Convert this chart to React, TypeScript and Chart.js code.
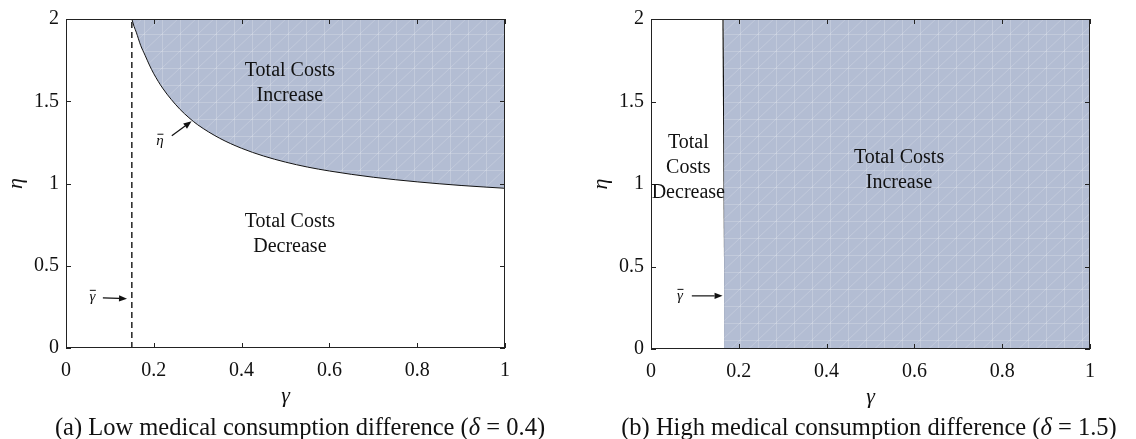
import React, { useEffect, useRef } from "react";
import { Chart, registerables } from "chart.js";

Chart.register(...registerables);

// ---------- data ----------
const gammaCurveA = [0.15, 0.155, 0.16, 0.17, 0.18, 0.19, 0.2, 0.22, 0.24, 0.26, 0.28, 0.3, 0.35, 0.4, 0.45, 0.5, 0.55, 0.6, 0.7, 0.8, 0.9, 1.0];
const etaCurveA = [2.0, 1.955, 1.92, 1.84, 1.78, 1.72, 1.667, 1.58, 1.51, 1.45, 1.4, 1.357, 1.275, 1.214, 1.167, 1.13, 1.1, 1.076, 1.038, 1.01, 0.988, 0.971];
const gammaBarA = 0.15;
const gammaBarBTop = 0.164;
const gammaBarBBottom = 0.169;
const xTickValues = [0, 0.2, 0.4, 0.6, 0.8, 1];
const yTickValues = [0, 0.5, 1, 1.5, 2];
const xTickLabels = ["0", "0.2", "0.4", "0.6", "0.8", "1"];
const yTickLabels = ["0", "0.5", "1", "1.5", "2"];
const captionA = "(a) Low medical consumption difference (";
const captionB = "(b) High medical consumption difference (";
const deltaA = "0.4";
const deltaB = "1.5";

const FILL_RGB = "rgb(179,189,211)";
const SERIF = "'Liberation Serif', 'Times New Roman', serif";

type Note = { x: number; y: number; lines: string[] };
type Arrow = { from: [number, number]; to: [number, number] };
type Mark = { x: number; y: number; text: string };

const notesA: Note[] = [
  { x: 0.51, y: 1.611, lines: ["Total Costs", "Increase"] },
  { x: 0.51, y: 0.69, lines: ["Total Costs", "Decrease"] },
];
const marksA: Mark[] = [
  { x: 0.214, y: 1.26, text: "\u03B7" },
  { x: 0.06, y: 0.311, text: "\u03B3" },
];
const arrowsA: Arrow[] = [
  { from: [0.241, 1.29], to: [0.286, 1.378] },
  { from: [0.084, 0.305], to: [0.139, 0.3] },
];
const notesB: Note[] = [
  { x: 0.085, y: 1.1, lines: ["Total", "Costs", "Decrease"] },
  { x: 0.565, y: 1.086, lines: ["Total Costs", "Increase"] },
];
const marksB: Mark[] = [{ x: 0.066, y: 0.322, text: "\u03B3" }];
const arrowsB: Arrow[] = [{ from: [0.093, 0.322], to: [0.163, 0.322] }];

function makePattern(): CanvasPattern | string {
  const tile = document.createElement("canvas");
  tile.width = 18;
  tile.height = 17;
  const c = tile.getContext("2d");
  if (!c) return FILL_RGB;
  c.fillStyle = FILL_RGB;
  c.fillRect(0, 0, 18, 17);
  c.strokeStyle = "rgba(255,255,255,0.2)";
  c.lineWidth = 1;
  c.beginPath();
  c.moveTo(0.5, 0);
  c.lineTo(0.5, 17);
  c.moveTo(0, 0.5);
  c.lineTo(18, 0.5);
  c.moveTo(0, 17);
  c.lineTo(18, 0);
  c.stroke();
  const p = c.createPattern(tile, "repeat");
  return p || FILL_RGB;
}

function decorPlugin(notes: Note[], marks: Mark[], arrows: Arrow[]) {
  return {
    id: "decor",
    afterDatasetsDraw(chart: any) {
      const { ctx, chartArea: a, scales } = chart;
      const xs = scales.x;
      const ys = scales.y;
      ctx.save();
      // box
      ctx.strokeStyle = "#222";
      ctx.lineWidth = 1;
      ctx.strokeRect(Math.round(a.left) + 0.5, Math.round(a.top) + 0.5, Math.round(a.right - a.left) - 1, Math.round(a.bottom - a.top) - 1);
      // inward ticks
      const tl = 5;
      ctx.beginPath();
      xTickValues.forEach((v) => {
        const px = Math.round(xs.getPixelForValue(v)) + 0.5;
        ctx.moveTo(px, a.bottom);
        ctx.lineTo(px, a.bottom - tl);
        ctx.moveTo(px, a.top);
        ctx.lineTo(px, a.top + tl);
      });
      yTickValues.forEach((v) => {
        const py = Math.round(ys.getPixelForValue(v)) + 0.5;
        ctx.moveTo(a.left, py);
        ctx.lineTo(a.left + tl, py);
        ctx.moveTo(a.right, py);
        ctx.lineTo(a.right - tl, py);
      });
      ctx.stroke();

      // notes
      ctx.fillStyle = "#111";
      ctx.textAlign = "center";
      ctx.textBaseline = "middle";
      ctx.font = `20px ${SERIF}`;
      notes.forEach((n) => {
        const cx = xs.getPixelForValue(n.x);
        const cy = ys.getPixelForValue(n.y);
        n.lines.forEach((ln, i) => {
          ctx.fillText(ln, cx, cy + (i - (n.lines.length - 1) / 2) * 25);
        });
      });
      // marks (letter with a bar above)
      ctx.font = `italic 15px ${SERIF}`;
      ctx.strokeStyle = "#111";
      ctx.lineWidth = 1;
      marks.forEach((m) => {
        const mx = xs.getPixelForValue(m.x);
        const my = ys.getPixelForValue(m.y);
        ctx.fillText(m.text, mx, my);
        ctx.beginPath();
        ctx.moveTo(mx - 2.5, my - 6.5);
        ctx.lineTo(mx + 3.5, my - 6.5);
        ctx.stroke();
      });
      // arrows
      ctx.lineWidth = 1.2;
      arrows.forEach((ar) => {
        const x1 = xs.getPixelForValue(ar.from[0]);
        const y1 = ys.getPixelForValue(ar.from[1]);
        const x2 = xs.getPixelForValue(ar.to[0]);
        const y2 = ys.getPixelForValue(ar.to[1]);
        const ang = Math.atan2(y2 - y1, x2 - x1);
        const hl = 8;
        const hw = 3.2;
        const bx = x2 - hl * Math.cos(ang);
        const by = y2 - hl * Math.sin(ang);
        ctx.beginPath();
        ctx.moveTo(x1, y1);
        ctx.lineTo(bx, by);
        ctx.stroke();
        ctx.beginPath();
        ctx.moveTo(x2, y2);
        ctx.lineTo(bx + hw * Math.sin(ang), by - hw * Math.cos(ang));
        ctx.lineTo(bx - hw * Math.sin(ang), by + hw * Math.cos(ang));
        ctx.closePath();
        ctx.fill();
      });
      // axis titles
      ctx.font = `italic 22px ${SERIF}`;
      ctx.fillText("\u03B3", (a.left + a.right) / 2, a.bottom + 48);
      ctx.save();
      ctx.translate(a.left - 50, (a.top + a.bottom) / 2);
      ctx.rotate(-Math.PI / 2);
      ctx.fillText("\u03B7", 0, 0);
      ctx.restore();
      ctx.restore();
    },
  };
}

function scalesFor(yWidth: number, xHeight: number) {
  return {
    x: {
      type: "linear",
      min: 0,
      max: 1,
      afterBuildTicks: (s: any) => {
        s.ticks = xTickValues.map((v) => ({ value: v }));
      },
      afterFit: (s: any) => {
        s.height = xHeight;
      },
      ticks: {
        callback: (_v: any, i: number) => xTickLabels[i],
        font: { family: SERIF, size: 20 },
        color: "#111",
        padding: 11,
        maxRotation: 0,
        autoSkip: false,
      },
      grid: { display: false, drawTicks: false },
      border: { display: false },
    },
    y: {
      type: "linear",
      min: 0,
      max: 2,
      afterBuildTicks: (s: any) => {
        s.ticks = yTickValues.map((v) => ({ value: v }));
      },
      afterFit: (s: any) => {
        s.width = yWidth;
      },
      ticks: {
        callback: (_v: any, i: number) => yTickLabels[i],
        font: { family: SERIF, size: 20 },
        color: "#111",
        padding: 7,
        autoSkip: false,
      },
      grid: { display: false, drawTicks: false },
      border: { display: false },
    },
  };
}

function ChartA() {
  const ref = useRef<HTMLCanvasElement>(null);
  useEffect(() => {
    if (!ref.current) return;
    const pattern = makePattern();
    const chart = new Chart(ref.current, {
      type: "line",
      data: {
        datasets: [
          {
            data: gammaCurveA.map((g, i) => ({ x: g, y: etaCurveA[i] })),
            borderColor: "#111",
            borderWidth: 1,
            pointRadius: 0,
            fill: "end",
            backgroundColor: pattern as any,
            cubicInterpolationMode: "monotone",
          },
          {
            data: [
              { x: gammaBarA, y: 0 },
              { x: gammaBarA, y: 2 },
            ],
            borderColor: "#000",
            borderWidth: 1.3,
            borderDash: [6, 4],
            pointRadius: 0,
            fill: false,
          },
        ],
      },
      options: {
        animation: false,
        responsive: false,
        devicePixelRatio: 1,
        layout: { padding: { top: 18, right: 55, left: 0, bottom: 0 } },
        plugins: { legend: { display: false }, tooltip: { enabled: false } },
        scales: scalesFor(66, 91) as any,
      },
      plugins: [decorPlugin(notesA, marksA, arrowsA)],
    });
    return () => chart.destroy();
  }, []);
  return <canvas ref={ref} width={560} height={439} style={{ position: "absolute", left: 0, top: 0 }} />;
}

function ChartB() {
  const ref = useRef<HTMLCanvasElement>(null);
  useEffect(() => {
    if (!ref.current) return;
    const pattern = makePattern();
    const chart = new Chart(ref.current, {
      type: "line",
      data: {
        datasets: [
          {
            data: [
              { x: (gammaBarBTop + gammaBarBBottom) / 2, y: 2 },
              { x: 1, y: 2 },
            ],
            borderWidth: 0,
            borderColor: "rgba(0,0,0,0)",
            pointRadius: 0,
            fill: "start",
            backgroundColor: pattern as any,
          },
          {
            data: [
              { x: gammaBarBTop, y: 2 },
              { x: gammaBarBBottom, y: 0 },
            ],
            borderColor: "#111",
            borderWidth: 1.2,
            pointRadius: 0,
            fill: false,
          },
        ],
      },
      options: {
        animation: false,
        responsive: false,
        devicePixelRatio: 1,
        layout: { padding: { top: 18, right: 46, left: 0, bottom: 0 } },
        plugins: { legend: { display: false }, tooltip: { enabled: false } },
        scales: scalesFor(91, 90) as any,
      },
      plugins: [decorPlugin(notesB, marksB, arrowsB)],
    });
    return () => chart.destroy();
  }, []);
  return <canvas ref={ref} width={576} height={439} style={{ position: "absolute", left: 560, top: 0 }} />;
}

export default function App() {
  const capStyle: React.CSSProperties = {
    position: "absolute",
    top: 413,
    height: 28,
    lineHeight: "28px",
    fontFamily: SERIF,
    fontSize: 24.5,
    color: "#111",
    textAlign: "center",
    whiteSpace: "nowrap",
  };
  return (
    <div style={{ position: "fixed", left: 0, top: 0, width: 1136, height: 439, background: "#fff", overflow: "hidden" }}>
      <ChartA />
      <ChartB />
      <div style={{ ...capStyle, left: 30, width: 540 }}>
        {captionA}
        <i>δ</i> = {deltaA})
      </div>
      <div style={{ ...capStyle, left: 599, width: 540 }}>
        {captionB}
        <i>δ</i> = {deltaB})
      </div>
    </div>
  );
}
